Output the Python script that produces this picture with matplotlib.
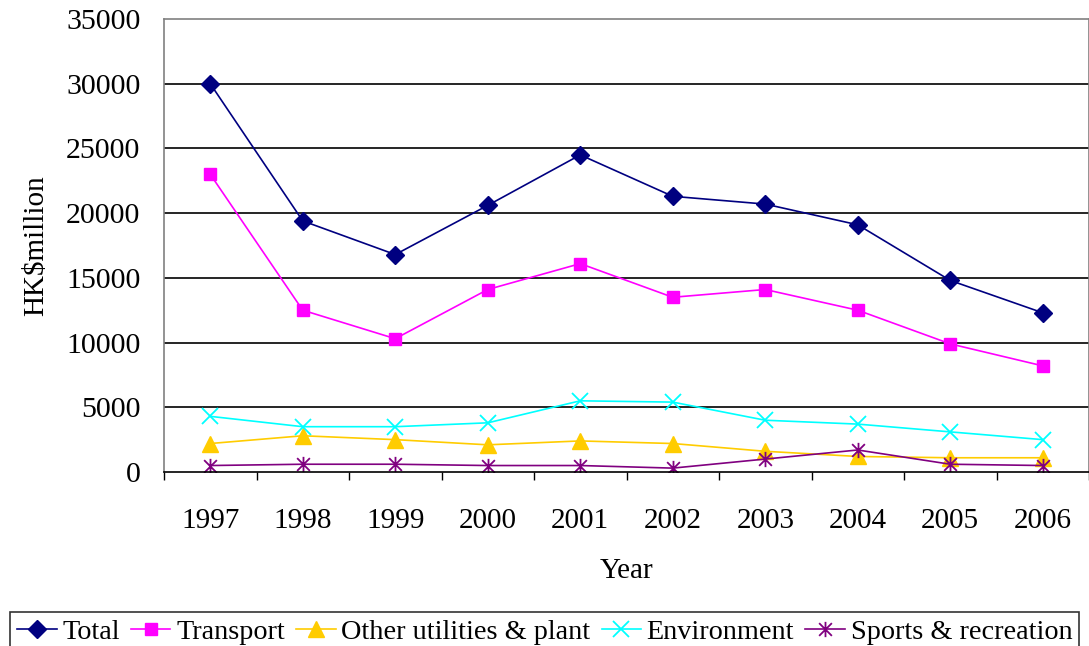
import matplotlib
matplotlib.use("Agg")
import matplotlib.pyplot as plt
from matplotlib.path import Path

# Capital works expenditure by category, HK$ million
years = ["1997", "1998", "1999", "2000", "2001", "2002", "2003", "2004", "2005", "2006"]
total = [30000, 19400, 16800, 20600, 24500, 21300, 20700, 19100, 14800, 12300]
transport = [23000, 12500, 10300, 14100, 16100, 13500, 14100, 12500, 9900, 8200]
other_utilities = [2200, 2800, 2500, 2100, 2400, 2200, 1600, 1200, 1100, 1100]
environment = [4300, 3500, 3500, 3800, 5500, 5400, 4000, 3700, 3100, 2500]
sports = [500, 600, 600, 500, 500, 300, 1000, 1700, 600, 500]

plt.rcParams['font.family'] = ['Liberation Serif', 'DejaVu Serif']
plt.rcParams['font.size'] = 21

# star marker: an x with a vertical bar through it
star = Path([(-1, -1), (1, 1), (-1, 1), (1, -1), (0, -1.2), (0, 1.2)],
            [Path.MOVETO, Path.LINETO] * 3)

fig = plt.figure(figsize=(10.89, 6.46), dpi=100)
ax = fig.add_axes([164/1089, 1 - 472/646, (1089 - 164)/1089, (472 - 19)/646])

x = range(len(years))
ax.plot(x, total, color="#000080", marker="D", ms=9, lw=1.2, label="Total")
ax.plot(x, transport, color="#FF00FF", marker="s", ms=9, lw=1.2, label="Transport")
ax.plot(x, other_utilities, color="#FFCC00", marker="^", ms=11, lw=1.2,
        label="Other utilities & plant")
ax.plot(x, environment, color="#00FFFF", marker="x", ms=11, mew=1.3, lw=1.2,
        label="Environment")
ax.plot(x, sports, color="#800080", marker=star, ms=11, mew=1.3, lw=1.2,
        label="Sports & recreation")

ax.set_xlim(-0.5, 9.5)
ax.set_ylim(0, 35000)
ax.set_yticks(range(0, 35001, 5000))
ax.set_xticks(list(x))
ax.set_xticklabels(years)
ax.set_xticks([i - 0.5 for i in range(len(years) + 1)], minor=True)
ax.tick_params(axis="x", which="major", length=0, pad=26)
ax.tick_params(axis="x", which="minor", length=6, width=1, color="black", direction="out")
ax.tick_params(axis="y", length=0, pad=17, labelsize=21.5)

for v in range(5000, 35000, 5000):
    ax.axhline(v, color="black", lw=1.2, zorder=0)

for side in ["top", "left", "right"]:
    ax.spines[side].set_color("#808080")
    ax.spines[side].set_linewidth(1.2)
ax.spines["bottom"].set_color("black")
ax.spines["bottom"].set_linewidth(1.2)

ax.set_xlabel("Year", labelpad=17)
ax.set_ylabel("HK\\$million", labelpad=12)

leg = fig.legend(loc="upper left", bbox_to_anchor=(10/1089, 1 - 612/646), ncol=5,
                 frameon=True, fancybox=False, edgecolor="black", borderaxespad=0,
                 handlelength=1.4, handletextpad=0.2, columnspacing=0.4,
                 borderpad=0.25, fontsize=20.3)
leg.get_frame().set_linewidth(1.2)

fig.savefig("out.png", dpi=100)
